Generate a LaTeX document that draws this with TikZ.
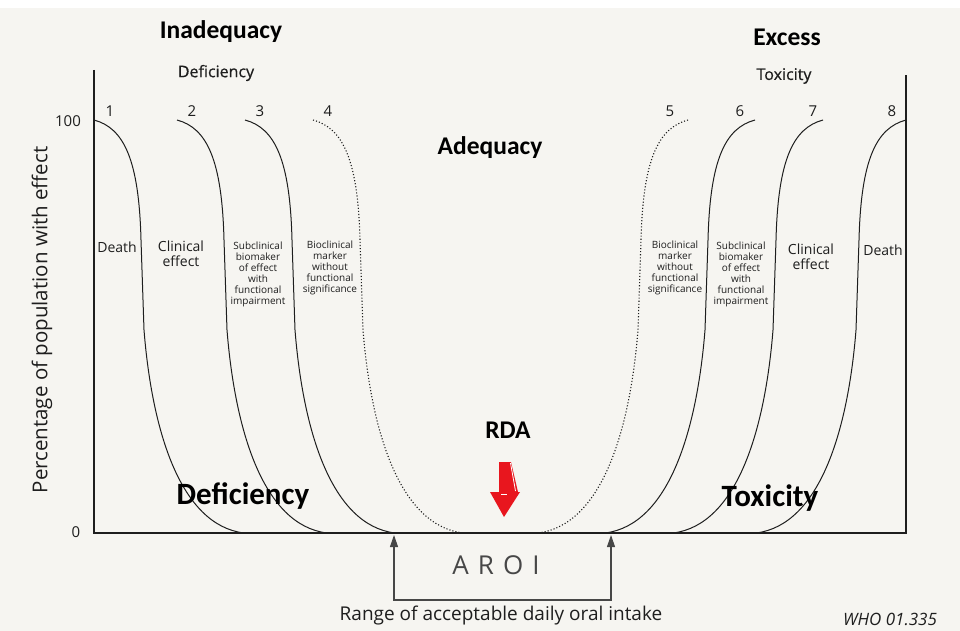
\documentclass[tikz,border=0pt]{standalone}
\usepackage{fontspec}
\setmainfont{Open Sans}
\newfontfamily\calib{Carlito}
\usetikzlibrary{arrows.meta}
\definecolor{paper}{HTML}{F6F5F1}
\definecolor{RDAred}{HTML}{E8161E}
\definecolor{AROIgray}{HTML}{474747}
\definecolor{inkdark}{HTML}{1E1E1E}

\tikzset{
  axisline/.style={line width=1.3pt, inkdark},
  effcurve/.style={line width=1pt, inkdark},
  markcurve/.style={line width=1.1pt, inkdark, dotted},
  numlabel/.style={inkdark, font=\fontsize{15}{16}\selectfont},
  headlabel/.style={inkdark, font=\addfontfeature{FakeBold=0.6}\fontsize{16}{18}\selectfont},
  zonelabel/.style={black, font=\calib\bfseries\fontsize{25.5}{28}\selectfont},
  bigzone/.style={black, font=\calib\bfseries\fontsize{31}{33}\selectfont},
  efflabel/.style={inkdark, align=center, font=\fontsize{14}{15}\selectfont},
  smalllabel/.style={inkdark, align=center, font=\fontsize{10}{11}\selectfont},
  aroiarrow/.style={line width=1.1pt, AROIgray,
    {Triangle[width=8pt,length=12pt]}-{Triangle[width=8pt,length=12pt]}}
}

\begin{document}
\begin{tikzpicture}[x=1pt,y=-1pt]
  \useasboundingbox (0,0) rectangle (960,631);
  \fill[paper] (0,0) rectangle (960,631);
  \fill[white] (0,0) rectangle (960,8);

  % frame
  \draw[axisline] (94,70) -- (94,533) -- (906,533) -- (906,75);
  \node[numlabel] (hundred) at (68,121) {100};
  \node[numlabel] (zero) at (76,532) {0};
  \node[rotate=90, inkdark, font=\fontsize{20.5}{21}\selectfont] (ylabel) at (42,320) {Percentage of population with effect};

  % deficiency side
  \foreach \xa in {94,177,245}
    \draw[effcurve] (\xa,120) .. controls (\xa+30,128) and (\xa+45,160) .. (\xa+47,240)
      -- (\xa+50,330) .. controls (\xa+58,430) and (\xa+86,525) .. (\xa+150,533);
  \draw[markcurve] (313,120) .. controls (343,128) and (358,160) .. (360,240)
      -- (363,330) .. controls (371,430) and (399,525) .. (463,533);

  % toxicity side
  \foreach \xa in {755,823,906}
    \draw[effcurve] (\xa,120) .. controls (\xa-30,128) and (\xa-45,160) .. (\xa-47,240)
      -- (\xa-50,330) .. controls (\xa-58,430) and (\xa-86,525) .. (\xa-150,533);
  \draw[markcurve] (688,120) .. controls (658,128) and (643,160) .. (641,240)
      -- (638,330) .. controls (630,430) and (602,525) .. (538,533);

  % curve numbers
  \foreach \n/\xa in {1/110,2/192,3/260,4/328,5/670,6/740,7/813,8/892}
    \node[numlabel] (num\n) at (\xa,111) {\n};

  % effect labels
  \node[efflabel] (deathL) at (117,247) {Death};
  \node[efflabel] (clinL) at (181,254) {Clinical\\effect};
  \node[smalllabel] (subL) at (258,274) {Subclinical\\biomaker\\of effect\\with\\functional\\impairment};
  \node[smalllabel] (bioL) at (330,268) {Bioclinical\\marker\\without\\functional\\significance};
  \node[smalllabel] (bioR) at (675,268) {Bioclinical\\marker\\without\\functional\\significance};
  \node[smalllabel] (subR) at (741,274) {Subclinical\\biomaker\\of effect\\with\\functional\\impairment};
  \node[efflabel] (clinR) at (811,257) {Clinical\\effect};
  \node[efflabel] (deathR) at (883,250) {Death};

  % headings
  \node[zonelabel] (inadequacy) at (221,32) {Inadequacy};
  \node[headlabel] (deficiency) at (216,73) {Deficiency};
  \node[zonelabel] (excess) at (787,37) {Excess};
  \node[headlabel] (toxicity) at (784,76) {Toxicity};
  \node[zonelabel] (adequacy) at (490,148) {Adequacy};
  \node[zonelabel] (rda) at (508,430) {RDA};
  \node[bigzone] (deffzone) at (243,496) {Deficiency};
  \node[bigzone] (toxzone) at (770,498) {Toxicity};

  % RDA arrow
  \fill[RDAred] (499,462) -- (511,462) -- (518,492) -- (499,492) -- cycle;
  \fill[RDAred] (490,492) -- (520,492) -- (504,517) -- cycle;
  \draw[white, line width=0.8pt] (510.5,463) -- (515.5,491);
  \draw[white, line width=1.5pt] (501,494.5) -- (507,494.5);

  % acceptable range
  \coordinate (aroiL) at (394,535);
  \coordinate (aroiR) at (611,535);
  \draw[aroiarrow] (aroiL) |- (502,600) -| (aroiR);
  \node[AROIgray, font=\fontsize{26}{28}\selectfont] (aroi) at (496,565) {A\hspace{9pt}R\hspace{9pt}O\hspace{9pt}I};
  \node[inkdark, font=\fontsize{19}{20}\selectfont] (range) at (501,616) {Range of acceptable daily oral intake};
  \node[inkdark, font=\itshape\fontsize{17}{18}\selectfont] (who) at (890,619) {WHO 01.335};
\end{tikzpicture}
\end{document}
